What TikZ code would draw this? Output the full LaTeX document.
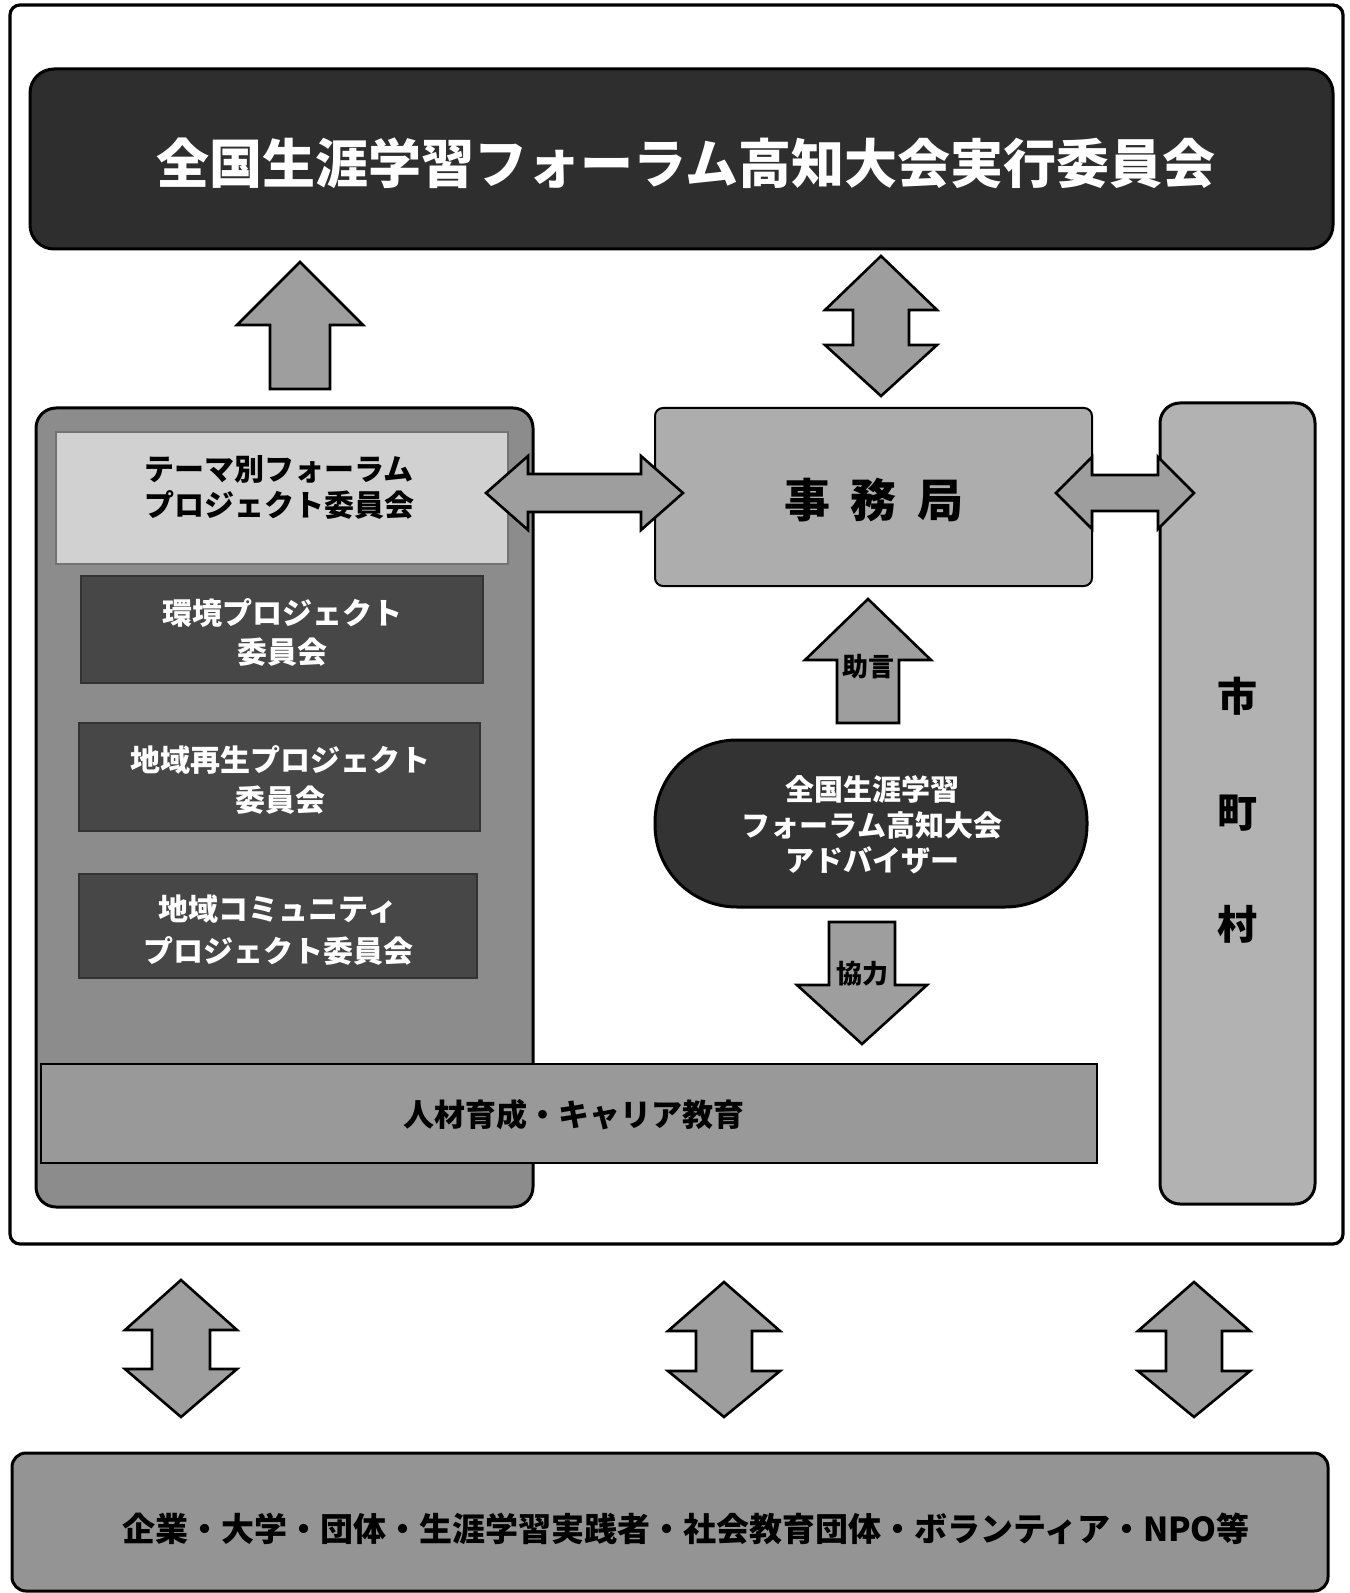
\documentclass[tikz,border=0pt]{standalone}
\usepackage{fontspec}
\setmainfont{Noto Sans CJK JP}
\newcommand\blkUp[6]{% cx, tip, base, shoulder, head half width, shaft half width
  \draw[blockarrow] (#1-#6,#3) -- (#1-#6,#4) -- (#1-#5,#4) -- (#1,#2) -- (#1+#5,#4) -- (#1+#6,#4) -- (#1+#6,#3) -- cycle;}
\newcommand\blkDown[6]{% cx, top, tip, shoulder, head half width, shaft half width
  \draw[blockarrow] (#1-#6,#2) -- (#1-#6,#4) -- (#1-#5,#4) -- (#1,#3) -- (#1+#5,#4) -- (#1+#6,#4) -- (#1+#6,#2) -- cycle;}
\newcommand\blkVD[7]{% cx, top, bottom, sh1, sh2, head half, shaft half
  \draw[blockarrow] (#1,#2) -- (#1+#6,#4) -- (#1+#7,#4) -- (#1+#7,#5) -- (#1+#6,#5) -- (#1,#3) -- (#1-#6,#5) -- (#1-#7,#5) -- (#1-#7,#4) -- (#1-#6,#4) -- cycle;}
\newcommand\blkHD[7]{% cy, left, right, sh1, sh2, head half, shaft half
  \draw[blockarrow] (#2,#1) -- (#4,#1-#6) -- (#4,#1-#7) -- (#5,#1-#7) -- (#5,#1-#6) -- (#3,#1) -- (#5,#1+#6) -- (#5,#1+#7) -- (#4,#1+#7) -- (#4,#1+#6) -- cycle;}
\tikzset{
  outerframe/.style={draw=black, line width=1.6pt, rounded corners=5pt},
  box/.style={draw=black, line width=1.5pt},
  thinbox/.style={draw=black!80, line width=0.8pt},
  blockarrow/.style={draw=black, line width=1.3pt, fill=black!38, line join=miter},
  wtext/.style={text=white, font=\bfseries, align=center, inner sep=0pt},
  btext/.style={text=black, font=\bfseries, align=center, inner sep=0pt},
}
\begin{document}
\begin{tikzpicture}[x=0.5pt,y=-0.5pt]
\useasboundingbox (0,0) rectangle (1349,1593);
\fill[white] (0,0) rectangle (1349,1593);

% outer frame
\draw[outerframe] (10,5) rectangle (1343,1244);

% top committee
\draw[box, fill=black!82, rounded corners=12pt] (30,69) rectangle (1333,249);
\node[wtext, font=\bfseries\fontsize{26.5}{30}\selectfont] (top) at (686,163) {全国生涯学習フォーラム高知大会実行委員会};

% arrows below top
\blkUp{300}{262}{389}{325}{63}{30}
\blkVD{881}{256}{396}{310}{345}{56}{28}

% left big box
\draw[box, fill=black!45, rounded corners=10pt] (36,408) rectangle (533,1207);
\fill[black!18] (56,432) rectangle (508,564);
\draw[black!55, line width=0.6pt] (56,432) rectangle (508,564);
\node[btext, font=\bfseries\fontsize{15}{18}\selectfont] (theme) at (279,487) {テーマ別フォーラム\\プロジェクト委員会};

\draw[thinbox, fill=black!72] (81,576) rectangle (483,683);
\node[wtext, font=\bfseries\fontsize{15}{19.5}\selectfont] (env) at (282,632) {環境プロジェクト\\委員会};
\draw[thinbox, fill=black!72] (79,723) rectangle (480,831);
\node[wtext, font=\bfseries\fontsize{15}{20}\selectfont] (regen) at (280,780) {地域再生プロジェクト\\委員会};
\draw[thinbox, fill=black!72] (79,874) rectangle (477,978);
\node[wtext, font=\bfseries\fontsize{15}{21}\selectfont] (comm) at (278,930) {地域コミュニティ\\プロジェクト委員会};

% career education bar
\draw[draw=black, line width=1pt, fill=black!40] (41,1064) rectangle (1097,1163);
\node[btext, font=\bfseries\fontsize{15.5}{18}\selectfont] (career) at (574,1115) {人材育成・キャリア教育};

% secretariat
\draw[box, line width=1pt, fill=black!32, rounded corners=4pt] (655,408) rectangle (1092,586);
\node[btext, font=\bfseries\fontsize{23}{26}\selectfont] (office) at (874,500) {事\hspace{0.45em}務\hspace{0.45em}局};

% municipalities
\draw[box, fill=black!30, rounded corners=10pt] (1160,403) rectangle (1315,1204);
\node[btext, font=\bfseries\fontsize{20}{22}\selectfont] (shi) at (1237,696) {市};
\node[btext, font=\bfseries\fontsize{20}{22}\selectfont] (cho) at (1237,813) {町};
\node[btext, font=\bfseries\fontsize{20}{22}\selectfont] (son) at (1237,924) {村};

% horizontal double arrows
\blkHD{493}{486}{683}{528}{641}{37}{19}
\blkHD{493}{1056}{1194}{1092}{1158}{36}{18}

% advice arrow
\blkUp{868}{599}{723}{660}{63}{31}
\node[btext, font=\bfseries\fontsize{13}{15}\selectfont] (advice) at (868,667) {助言};

% adviser pill
\draw[box, fill=black!80, rounded corners=41pt] (655,740) rectangle (1087,907);
\node[wtext, font=\bfseries\fontsize{14.5}{17.75}\selectfont] (adviser) at (872,825) {全国生涯学習\\フォーラム高知大会\\アドバイザー};

% cooperation arrow
\blkDown{862}{922}{1044}{985}{65}{33}
\node[btext, font=\bfseries\fontsize{13}{15}\selectfont] (coop) at (862,974) {協力};

% bottom double arrows
\blkVD{181}{1280}{1417}{1330}{1369}{56}{29}
\blkVD{724}{1282}{1417}{1331}{1371}{56}{28}
\blkVD{1194}{1282}{1417}{1331}{1371}{56}{28}

% bottom box
\draw[box, fill=black!42, rounded corners=7pt] (12,1453) rectangle (1328,1591);
\node[btext, font=\bfseries\fontsize{16.5}{19}\selectfont] (partners) at (686,1529) {企業・大学・団体・生涯学習実践者・社会教育団体・ボランティア・NPO等};
\end{tikzpicture}
\end{document}
